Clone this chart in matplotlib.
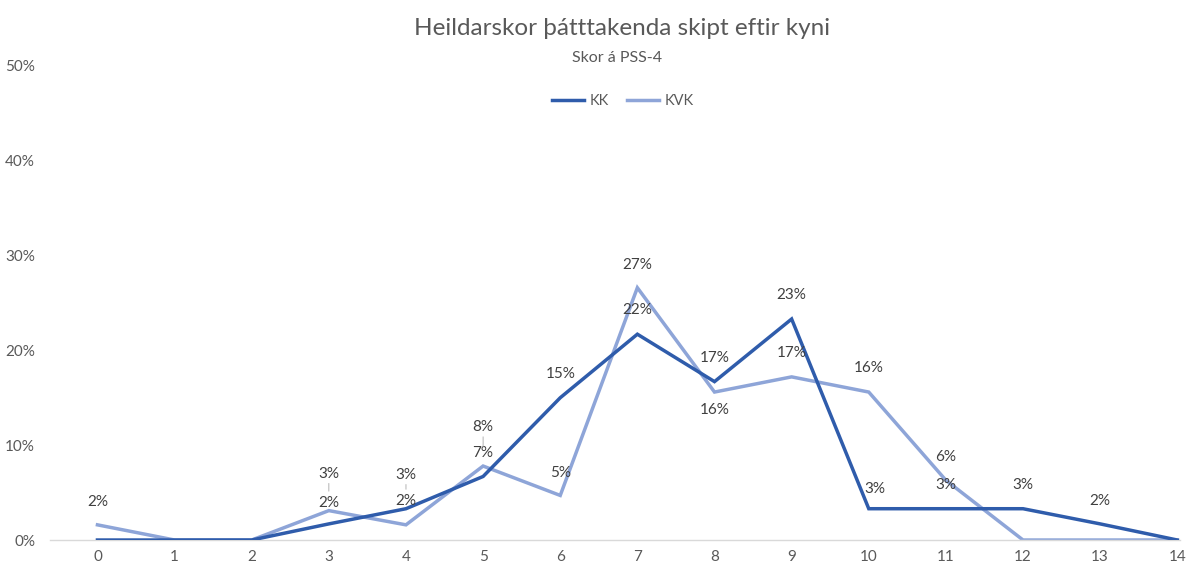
import matplotlib.pyplot as plt
from matplotlib.ticker import FuncFormatter

plt.rcParams['font.family'] = ['Lato', 'DejaVu Sans']

# skor á PSS-4 (0-14), hlutfall í %
scores = list(range(15))
kk = [0, 0, 0, 1.7, 3.3, 6.7, 15.0, 21.7, 16.7, 23.3, 3.3, 3.3, 3.3, 1.7, 0]
kvk = [1.6, 0, 0, 3.1, 1.6, 7.8, 4.7, 26.6, 15.6, 17.2, 15.6, 6.3, 0, 0, 0]

# label offsets (pixels above point), None = no label
kk_off = [None, None, None, 21, 34, 23, 24, 24, 24, 24, 20, 24, 24, 23, None]
kvk_off = [23, None, None, 37, 24, 39, 22, 23, -18, 24, 24, 23, None, None, None]

kk_color = '#2F5CAB'
kvk_color = '#8EA5D8'

fig = plt.figure(figsize=(12, 5.7), dpi=100)
ax = fig.add_axes([0.042, 0.0526, 0.941, 0.832])

ax.plot(scores, kk, color=kk_color, lw=2.5, label='KK', solid_joinstyle='miter', zorder=3)
ax.plot(scores, kvk, color=kvk_color, lw=2.5, label='KVK', solid_joinstyle='miter', zorder=2)


def add_labels(vals, offs):
    for x, v, off in zip(scores, vals, offs):
        if off is None:
            continue
        arrow = None
        if off > 30:
            arrow = dict(arrowstyle='-', color='#A6A6A6', lw=0.6, shrinkA=0, shrinkB=14)
        dx = 6 if (vals is kk and x == 10) else 0
        ax.annotate(f'{round(v):.0f}%', (x, v), xytext=(dx, off), textcoords='offset pixels',
                    ha='center', va='center', fontsize=11, color='#404040',
                    arrowprops=arrow, zorder=4)


add_labels(kk, kk_off)
add_labels(kvk, kvk_off)

ax.set_xlim(-0.61, 14.03)
ax.set_ylim(0, 50)
ax.set_xticks(scores)
ax.set_yticks([0, 10, 20, 30, 40, 50])
ax.yaxis.set_major_formatter(FuncFormatter(lambda v, p: f'{v:.0f}%'))
ax.tick_params(length=0, labelsize=11, labelcolor='#595959')
ax.tick_params(axis='x', pad=7)
ax.tick_params(axis='y', pad=11)
for s in ['top', 'right', 'left']:
    ax.spines[s].set_visible(False)
ax.spines['bottom'].set_color('#D9D9D9')
ax.spines['bottom'].set_linewidth(1)

fig.text(0.518, 0.95, 'Heildarskor þátttakenda skipt eftir kyni', ha='center', va='center',
         fontsize=17.5, color='#595959')
fig.text(0.514, 0.898, 'Skor á PSS-4', ha='center', va='center', fontsize=11.5, color='#595959')

fig.legend(loc='center', bbox_to_anchor=(0.519, 0.823), ncol=2, frameon=False,
           fontsize=10.5, labelcolor='#595959', handlelength=2.2, columnspacing=1.2,
           handletextpad=0.4)

fig.savefig('out.png', dpi=100)
